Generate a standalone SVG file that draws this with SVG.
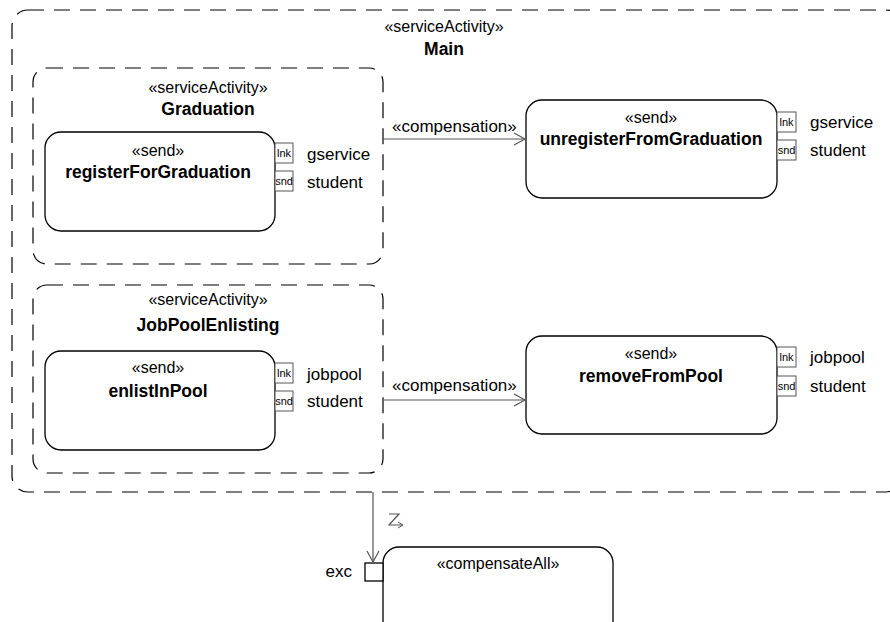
<svg xmlns="http://www.w3.org/2000/svg" width="890" height="622" viewBox="0 0 890 622">
<defs>
<style>
.dash{fill:none;stroke:#000;stroke-width:1.2;stroke-dasharray:16 10}
.act{fill:#fff;stroke:#000;stroke-width:1.3}
.pin{fill:#fff;stroke:#555;stroke-width:1}
.t{font-family:"Liberation Sans",Arial,sans-serif;font-size:17px;fill:#000}
.s{font-family:"Liberation Sans",Arial,sans-serif;font-size:16px;fill:#000}
.b{font-family:"Liberation Sans",Arial,sans-serif;font-size:17.5px;font-weight:bold;fill:#000}
.p{font-family:"Liberation Sans",Arial,sans-serif;font-size:11px;fill:#000}
.c{text-anchor:middle}
.edge{fill:none;stroke:#555;stroke-width:1.2}
</style>
<marker id="open" markerWidth="14" markerHeight="14" refX="12" refY="7" orient="auto" markerUnits="userSpaceOnUse">
<path d="M1,1 L12,7 L1,13" fill="none" stroke="#555" stroke-width="1.2"/>
</marker>
<marker id="small" markerWidth="8" markerHeight="8" refX="6" refY="4" orient="auto" markerUnits="userSpaceOnUse">
<path d="M1,1 L6,4 L1,7" fill="none" stroke="#555" stroke-width="1"/>
</marker>
</defs>
<rect width="890" height="622" fill="#fff"/>

<g id="main">
<rect class="dash" x="12" y="10" width="890" height="482" rx="16"/>
<text class="s c" x="444" y="32">«serviceActivity»</text>
<text class="b c" x="444" y="55">Main</text>
</g>

<g id="graduation">
<rect class="dash" x="33" y="68" width="350" height="196" rx="14"/>
<text class="s c" x="208" y="93">«serviceActivity»</text>
<text class="b c" x="208" y="115">Graduation</text>
</g>

<g id="registerForGraduation">
<rect class="act" x="45" y="132" width="230" height="99" rx="16"/>
<text class="s c" x="158" y="156">«send»</text>
<text class="b c" x="158" y="178">registerForGraduation</text>
<rect class="pin" x="275" y="143" width="18" height="20"/>
<text class="p c" x="284" y="157">lnk</text>
<rect class="pin" x="275" y="171" width="18" height="20"/>
<text class="p c" x="284" y="185">snd</text>
<text class="t" x="307" y="160">gservice</text>
<text class="t" x="307" y="188">student</text>
</g>

<g id="unregisterFromGraduation">
<rect class="act" x="526" y="100" width="251" height="98" rx="16"/>
<text class="s c" x="651" y="123">«send»</text>
<text class="b c" x="651" y="145">unregisterFromGraduation</text>
<rect class="pin" x="777" y="112" width="19" height="20"/>
<text class="p c" x="786.5" y="126">lnk</text>
<rect class="pin" x="777" y="140" width="19" height="20"/>
<text class="p c" x="786.5" y="154">snd</text>
<text class="t" x="810" y="128">gservice</text>
<text class="t" x="810" y="156">student</text>
</g>

<g id="jobPoolEnlisting">
<rect class="dash" x="33" y="285" width="350" height="188" rx="14"/>
<text class="s c" x="208" y="305">«serviceActivity»</text>
<text class="b c" x="208" y="331">JobPoolEnlisting</text>
</g>

<g id="enlistInPool">
<rect class="act" x="45" y="351" width="230" height="99" rx="16"/>
<text class="s c" x="158" y="373">«send»</text>
<text class="b c" x="158" y="397">enlistInPool</text>
<rect class="pin" x="275" y="363" width="18" height="20"/>
<text class="p c" x="284" y="377">lnk</text>
<rect class="pin" x="275" y="391" width="18" height="20"/>
<text class="p c" x="284" y="405">snd</text>
<text class="t" x="307" y="380">jobpool</text>
<text class="t" x="307" y="407">student</text>
</g>

<g id="removeFromPool">
<rect class="act" x="526" y="336" width="251" height="98" rx="16"/>
<text class="s c" x="651" y="359">«send»</text>
<text class="b c" x="651" y="382">removeFromPool</text>
<rect class="pin" x="777" y="347" width="19" height="20"/>
<text class="p c" x="786.5" y="361">lnk</text>
<rect class="pin" x="777" y="376" width="19" height="20"/>
<text class="p c" x="786.5" y="390">snd</text>
<text class="t" x="810" y="363">jobpool</text>
<text class="t" x="810" y="392">student</text>
</g>

<g id="compensateAll">
<rect class="act" x="383" y="547" width="230" height="100" rx="16"/>
<text class="s c" x="498" y="569">«compensateAll»</text>
<rect class="act" x="365" y="563" width="18" height="18"/>
<text class="t" x="352" y="577" text-anchor="end">exc</text>
</g>

<g id="connectors">
<line class="edge" x1="383" y1="139" x2="525" y2="139" marker-end="url(#open)"/>
<text class="t" x="392" y="132">«compensation»</text>
<line class="edge" x1="383" y1="400" x2="525" y2="400" marker-end="url(#open)"/>
<text class="t" x="392" y="391">«compensation»</text>
<line class="edge" x1="373" y1="492" x2="373" y2="562" marker-end="url(#open)"/>
<path class="edge" d="M389,514 L399,514 L389,525 L403,525" stroke-width="1" marker-end="url(#small)"/>
</g>
</svg>
